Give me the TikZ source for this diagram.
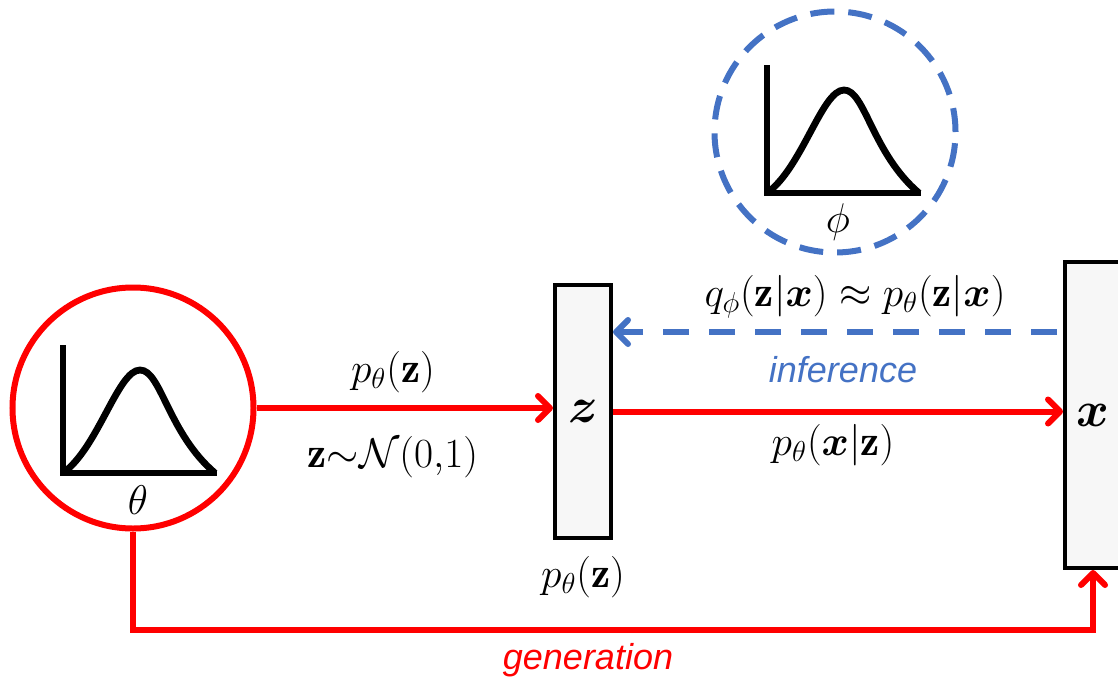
\documentclass[tikz,border=0pt]{standalone}
\usepackage{amsmath}
\usepackage{amssymb}
\usepackage{fontspec}
\usepackage{tikz}
\usetikzlibrary{arrows.meta,calc}

\newfontfamily\labelfont{Liberation Sans}
\definecolor{infblue}{RGB}{68,114,196}
\definecolor{boxgray}{RGB}{247,247,247}

% small density curve with axes, origin at the corner of the axes
\newcommand{\gaussicon}[1]{%
  \begin{scope}[shift={#1}]
    \draw[icon] (0,-128) -- (0,0) -- (154,0);
    \draw[icon] (0,0) .. controls (35,-25) and (55,-103) .. (77,-103)
      .. controls (98,-103) and (105,-40) .. (152,0);
  \end{scope}}

\begin{document}
\begin{tikzpicture}[x=0.5pt, y=-0.5pt,
    >={Straight Barb[length=6pt, width=12pt, round]},
    icon/.style={line width=3.4pt, black},
    prior/.style={circle, minimum size=120.5pt, inner sep=0pt, line width=3pt},
    latent/.style={rectangle, draw=black, fill=boxgray, line width=2pt, inner sep=0pt,
                   minimum width=28pt, font=\fontsize{24}{28}\selectfont},
    gen/.style={red, line width=3pt},
    inf/.style={infblue, line width=3pt, dash pattern=on 13pt off 10pt},
    mathlbl/.style={font=\fontsize{21.5}{25}\selectfont, inner sep=1pt},
    wordlbl/.style={font=\fontsize{18}{22}\selectfont\labelfont\itshape, inner sep=1pt}]
  % ============================================================
  % canvas in pixel units (y grows downwards)
  % ============================================================
  \useasboundingbox (0,0) rectangle (1118,680);

  % 1. Priors (parameter circles with density icons)
  \node[prior, draw=red] (theta) at (133,408) {};
  \gaussicon{(63,473)}
  \node[mathlbl] (thetalbl) at (138,500) {$\theta$};

  \node[prior, draw=infblue, dash pattern=on 12pt off 7pt] (phi) at (835,132) {};
  \gaussicon{(767,193)}
  \node[mathlbl] (philbl) at (838,222) {$\phi$};

  % 2. Latent and observed variables
  \node[latent, minimum height=126.5pt] (zbox) at (583,411.5) {$\boldsymbol{z}$};
  \node[latent, minimum height=153pt] (xbox) at (1093,415) {$\boldsymbol{x}$};
  \node[mathlbl] (pzbelow) at (583,577) {$p_\theta(\mathbf{z})$};

  % 3. Generative path
  \draw[gen, ->] (theta.east) -- (theta.east -| zbox.west);
  \node[mathlbl] (pzlbl) at (393,372) {$p_\theta(\mathbf{z})$};
  \node[mathlbl] (normlbl) at (393,457) {$\mathbf{z}{\sim}\mathcal{N}(0{,}1)$};

  \draw[gen, ->] (zbox.east) -- (zbox.east -| xbox.west);
  \node[mathlbl] (pxzlbl) at (833,445) {$p_\theta(\boldsymbol{x}|\mathbf{z})$};

  % 4. Inference path (dashed, back to z)
  \coordinate (infstart) at (1057,332);
  \draw[inf, ->] (infstart) -- (infstart -| zbox.east);
  \node[mathlbl] (qlbl) at (855,297)
    {$q_\phi(\mathbf{z}|\boldsymbol{x}) \approx p_\theta(\mathbf{z}|\boldsymbol{x})$};
  \node[wordlbl, infblue] (inflbl) at (843,370) {inference};

  % 5. Generation loop below everything
  \coordinate (genbend) at (133,630);
  \draw[gen, ->] (theta.south) -- (genbend) -| (xbox.south);
  \node[wordlbl, red] (genlbl) at (588,660) {generation};
\end{tikzpicture}
\end{document}
